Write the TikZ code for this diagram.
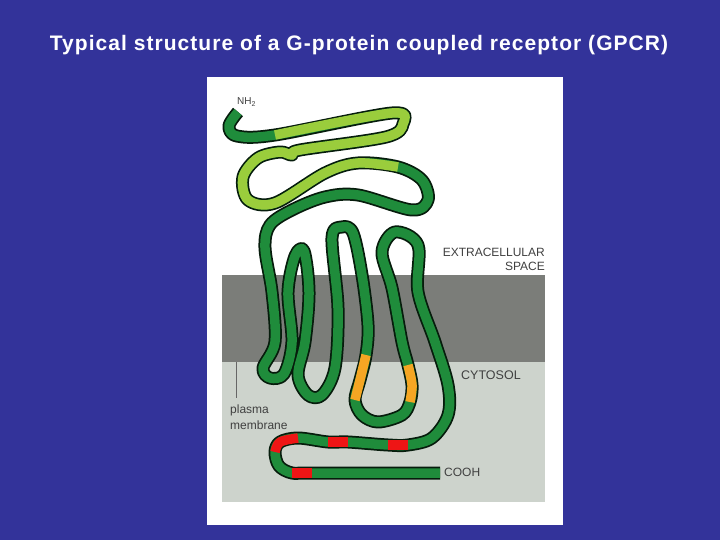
\documentclass[tikz,border=0pt]{standalone}
\usepackage{fontspec}
\setmainfont{Liberation Sans}
\definecolor{bg}{HTML}{33339A}
\definecolor{dg}{HTML}{1F8C3B}
\definecolor{lg}{HTML}{9ACD3C}
\definecolor{og}{HTML}{F5A623}
\definecolor{rd}{HTML}{EE1515}
\definecolor{mem}{HTML}{7B7D79}
\definecolor{cyt}{HTML}{CDD3CC}
\tikzset{
 tubeout/.style={line width=13pt,draw=black!80!dg,line join=round},
 tubein/.style={line width=9.5pt,line join=round},
 lbl/.style={font=\fontsize{12}{13}\selectfont,text=black!75,inner sep=0pt}
}
\begin{document}
\begin{tikzpicture}[x=1pt,y=-1pt]
\fill[bg] (0,0) rectangle (720,540);
\useasboundingbox (0,0) rectangle (720,540);
\node[font=\fontsize{21}{24}\selectfont\bfseries\addfontfeature{LetterSpace=5},text=white] (title) at (359,45) {Typical structure of a G-protein coupled receptor (GPCR)};
\fill[white] (207,77) rectangle (563,525);
\fill[mem] (222,275) rectangle (545,362);
\fill[cyt] (222,362) rectangle (545,502);
\draw[black!60,line width=0.8pt] (236,362) -- (236,398);
\def\full{(238,112) (229,126) (237,136) (275,135) (392,113) (403,124) (386,137) (300,150) (292,155) (280,152) (258,158) (243,177) (248,200) (275,203) (325,173) (358,163) (398,167) (422,180) (428,200) (412,210) (358,195) (325,197) (292,210) (270,225) (265,248) (272,292) (275,342) (263,368) (270,378) (284,374) (292,342) (288,292) (295,256) (304,251) (309,292) (305,342) (298,375) (308,395) (322,395) (335,368) (338,308) (332,238) (342,227) (353,233) (362,275) (368,325) (366,355) (360,380) (355,400) (362,415) (378,422) (402,415) (410,402) (412,385) (408,365) (402,342) (392,288) (382,252) (395,232) (418,245) (418,292) (435,342) (448,385) (448,415) (432,438) (408,445) (388,445) (348,442) (328,442) (298,438) (280,442) (275,452) (279,466) (292,473) (312,473) (440,473)}
\draw[tubeout] plot[smooth,tension=0.55] coordinates {\full};
\draw[tubein,dg] plot[smooth,tension=0.55] coordinates {\full};
\draw[tubein,lg] plot[smooth,tension=0.55] coordinates {(275,135) (392,113) (403,124) (386,137) (300,150) (292,155) (280,152) (258,158) (243,177) (248,200) (275,203) (325,173) (358,163) (398,167)};
\draw[tubein,og] plot[smooth,tension=0.55] coordinates {(366,355) (360,380) (355,400)};
\draw[tubein,og] plot[smooth,tension=0.55] coordinates {(410,402) (412,385) (408,365)};
\draw[tubein,rd] plot[smooth,tension=0.55] coordinates {(408,445) (388,445)};
\draw[tubein,rd] plot[smooth,tension=0.55] coordinates {(348,442) (328,442)};
\draw[tubein,rd] plot[smooth,tension=0.55] coordinates {(298,438) (280,442) (275,452)};
\draw[tubein,rd] plot[smooth,tension=0.55] coordinates {(292,473) (312,473)};
\node[lbl,anchor=west,font=\fontsize{10}{11}\selectfont] (nh) at (237,102) {NH\textsubscript{2}};
\node[lbl,anchor=east] (ex) at (545,252) {EXTRACELLULAR};
\node[lbl,anchor=east] (sp) at (545,266) {SPACE};
\node[lbl,anchor=west,font=\fontsize{12.5}{13}\selectfont] (cy) at (461,375) {CYTOSOL};
\node[lbl,anchor=west] (pl) at (230,410) {plasma};
\node[lbl,anchor=west] (mb) at (230,425) {membrane};
\node[lbl,anchor=west] (co) at (444,472) {COOH};
\end{tikzpicture}
\end{document}
